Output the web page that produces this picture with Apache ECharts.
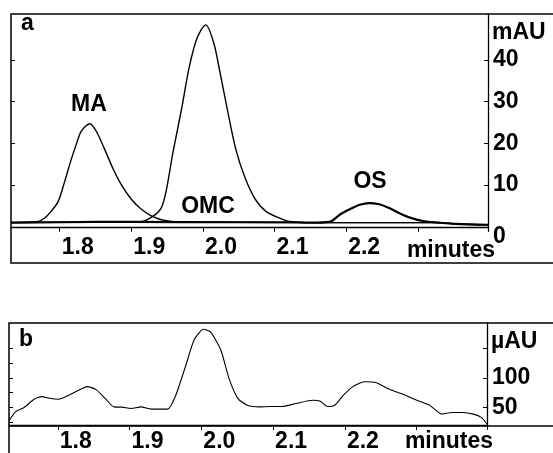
<!DOCTYPE html>
<html>
<head>
<meta charset="utf-8">
<script src="https://cdn.jsdelivr.net/npm/echarts@6/dist/echarts.min.js"></script>
<style>
  html, body { margin: 0; padding: 0; background: #fff; }
  #main { width: 553px; height: 453px; }
</style>
</head>
<body>
<div id="main"></div>
<script>
// panel a: three peaks (minutes, mAU)
const maTime = [1.732, 1.770, 1.779, 1.788, 1.798, 1.807, 1.816, 1.823, 1.830, 1.842, 1.851, 1.863, 1.874, 1.886, 1.900, 1.914, 1.928, 1.942, 1.956, 1.980, 2.050, 2.150, 2.250, 2.330, 2.353, 2.398];
const maSignal = [1.0, 1.3, 2.1, 3.7, 6.1, 10.9, 16.1, 19.7, 22.9, 24.7, 22.9, 18.5, 14.1, 10.1, 6.6, 4.2, 2.6, 1.7, 1.3, 1.2, 1.1, 1.0, 1.0, 1.0, 0.7, 0.5];

const omcTime = [1.732, 1.800, 1.900, 1.912, 1.930, 1.942, 1.949, 1.958, 1.970, 1.981, 1.992, 2.004, 2.015, 2.023, 2.035, 2.046, 2.058, 2.072, 2.088, 2.107, 2.121, 2.150, 2.250, 2.330, 2.353, 2.398];
const omcSignal = [1.0, 1.1, 1.2, 1.2, 2.5, 4.6, 8.9, 17.7, 28.1, 38.4, 45.3, 48.4, 44.1, 37.7, 27.3, 18.5, 12.1, 6.9, 3.7, 2.1, 1.3, 1.0, 1.0, 1.0, 0.7, 0.5];

const osTime = [1.732, 1.800, 1.900, 2.050, 2.121, 2.149, 2.177, 2.191, 2.205, 2.219, 2.232, 2.246, 2.260, 2.274, 2.289, 2.307, 2.330, 2.353, 2.398];
const osSignal = [1.0, 1.1, 1.2, 1.1, 1.1, 1.0, 1.2, 2.9, 4.2, 5.3, 5.7, 5.4, 4.5, 3.3, 2.2, 1.4, 1.0, 0.7, 0.5];

// panel b: single trace (minutes, µAU)
const bTime = [1.732, 1.741, 1.753, 1.767, 1.778, 1.790, 1.801, 1.815, 1.829, 1.841, 1.853, 1.867, 1.878, 1.890, 1.902, 1.916, 1.930, 1.941, 1.953, 1.964, 1.978, 1.990, 2.003, 2.013, 2.027, 2.039, 2.051, 2.064, 2.081, 2.095, 2.113, 2.132, 2.155, 2.165, 2.176, 2.186, 2.197, 2.211, 2.227, 2.244, 2.262, 2.281, 2.300, 2.318, 2.335, 2.349, 2.365, 2.379, 2.390, 2.398];
const bSignal = [26.8, 42, 49.5, 63.6, 68.1, 64.7, 63.6, 70.3, 78.8, 85.1, 80.5, 63.6, 50.5, 50, 47.8, 50.5, 46.6, 46.6, 46.6, 69.2, 120, 165.3, 183.4, 178.3, 148.3, 97.5, 64.7, 53.4, 50.5, 51.2, 51.2, 56.3, 61.9, 60.7, 51.2, 53.4, 69.2, 85.1, 93.6, 91.9, 80.5, 72, 61.9, 53.4, 38.1, 41, 41, 38.1, 32.5, 21.2];

// axis ticks and labels
const xTicks = [1.8, 1.9, 2.0, 2.1, 2.2, 2.3, 2.398];
const xLabels = [1.8, 1.9, 2.0, 2.1, 2.2];
const aRightTicks = [0, 10, 20, 30, 40];
const aRightLabels = [0, 10, 20, 30, 40];
const aLeftTicks = [10, 20, 30, 40];
const bRightTicks = [50, 100, 150];
const bRightLabels = [50, 100];
const bLeftTicks = [25, 50, 75, 100, 125, 150];

function zip(t, v) {
  return t.map((x, i) => [x, v[i]]);
}

const FONT = 'Liberation Sans';
const ink = '#000';
const lbl = { color: ink, fontFamily: FONT, fontWeight: 'bold', fontSize: 23 };

function xAxisFor(grid) {
  return {
    type: 'value', gridIndex: grid, min: 1.732, max: 2.398,
    axisLine: { show: true, lineStyle: { color: ink, width: 1.3 } },
    axisTick: { show: true, inside: false, length: 5, customValues: xTicks, lineStyle: { color: ink, width: 1 } },
    axisLabel: Object.assign({
      customValues: xLabels, align: 'left', margin: 5, padding: [0, 0, 0, 2],
      formatter: v => v.toFixed(1)
    }, lbl),
    splitLine: { show: false }
  };
}

function yAxisFor(grid, pos, min, max, ticks, labels, fmt) {
  const ax = {
    type: 'value', gridIndex: grid, position: pos, min: min, max: max,
    axisLine: { show: pos === 'right', lineStyle: { color: ink, width: 1.3 } },
    axisTick: { show: true, inside: true, length: 4, customValues: ticks, lineStyle: { color: ink, width: 1 } },
    splitLine: { show: false }
  };
  if (labels) {
    ax.axisLabel = Object.assign({ customValues: labels, margin: 5, formatter: fmt }, lbl);
  } else {
    ax.axisLabel = { show: false };
  }
  return ax;
}

function lineSeries(data, xi, yi, width, smooth) {
  return {
    type: 'line', xAxisIndex: xi, yAxisIndex: yi, data: data,
    showSymbol: false, smooth: smooth, silent: true,
    lineStyle: { color: ink, width: width }
  };
}

function txt(s, x, y, align) {
  return {
    type: 'text', x: x, y: y, silent: true,
    style: { text: s, fill: ink, font: 'bold 23px "' + FONT + '"', align: align || 'center', verticalAlign: 'middle' }
  };
}

var chart = echarts.init(document.getElementById('main'));
var option = {
  animation: false,
  backgroundColor: '#fff',
  grid: [
    { left: 11, top: 14, width: 477, height: 217 },
    { left: 9, top: 323, width: 478, height: 103 }
  ],
  xAxis: [xAxisFor(0), xAxisFor(1)],
  yAxis: [
    yAxisFor(0, 'right', -1, 51, aRightTicks, aRightLabels, v => v === 0 ? '{z|0}' : String(v)),
    yAxisFor(0, 'left', -1, 51, aLeftTicks, null),
    yAxisFor(1, 'right', 19.5, 194, bRightTicks, bRightLabels, v => String(v)),
    yAxisFor(1, 'left', 19.5, 194, bLeftTicks, null)
  ],
  series: [
    lineSeries(zip(maTime, maSignal), 0, 0, 1.4, 0.3),
    lineSeries(zip(omcTime, omcSignal), 0, 0, 1.4, 0.3),
    lineSeries(zip(osTime, osSignal), 0, 0, 2.2, 0.3),
    lineSeries(zip(bTime, bSignal), 1, 2, 1.1, 0.2)
  ],
  graphic: [
    { type: 'rect', silent: true, shape: { x: 11, y: 14, width: 560, height: 249 }, style: { fill: 'none', stroke: ink, lineWidth: 1.5 } },
    { type: 'rect', silent: true, shape: { x: 9, y: 323, width: 560, height: 103 }, style: { fill: 'none', stroke: ink, lineWidth: 1.5 } },
    { type: 'line', silent: true, shape: { x1: 9, y1: 426, x2: 9, y2: 460 }, style: { stroke: ink, lineWidth: 1.5 } },
    txt('a', 21, 24, 'left'),
    txt('MA', 89, 105),
    txt('OMC', 208, 207),
    txt('OS', 370, 182),
    txt('mAU', 492, 33, 'left'),
    txt('minutes', 451, 251),
    txt('b', 19, 340, 'left'),
    txt('\u00b5AU', 491, 342, 'left'),
    txt('minutes', 449, 442)
  ]
};
option.yAxis[0].axisLabel.rich = { z: Object.assign({ padding: [20, 0, 0, 0] }, lbl) };
chart.setOption(option);
</script>
</body>
</html>
